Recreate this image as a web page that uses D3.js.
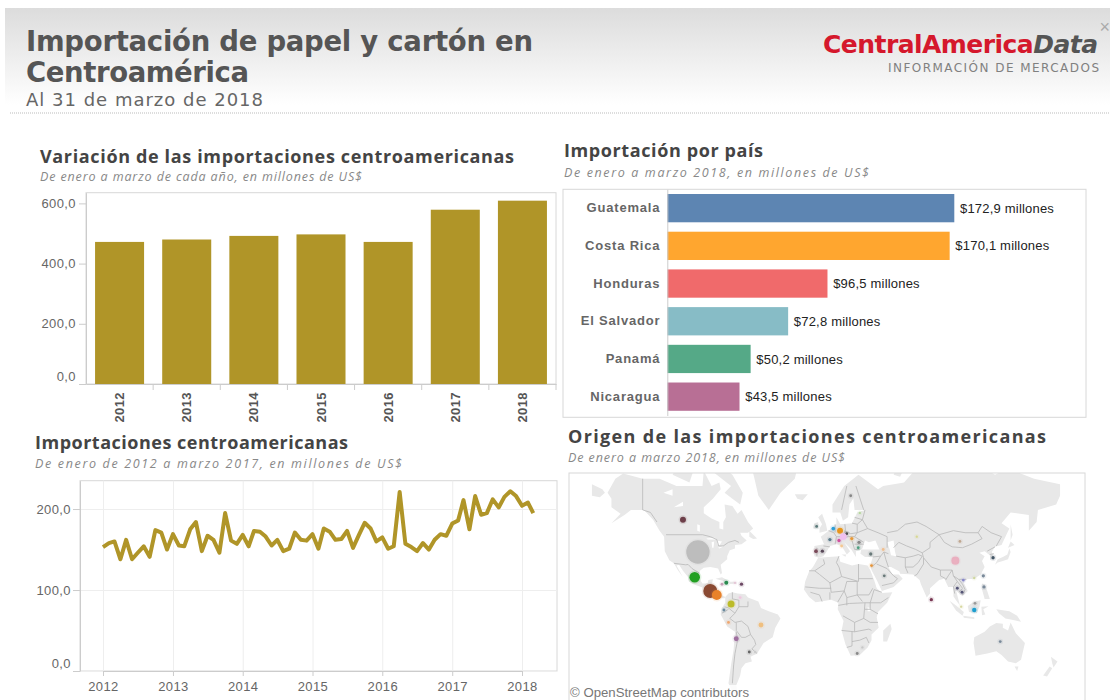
<!DOCTYPE html>
<html>
<head>
<meta charset="utf-8">
<title>Importación de papel y cartón en Centroamérica</title>
<script src="https://cdn.jsdelivr.net/npm/d3@7"></script>
<style>
    html, body { margin: 0; padding: 0; background: #fff; overflow: hidden; }
    #chart { width: 1110px; height: 700px; }
    text { font-family: "Liberation Sans", Arial, sans-serif; }
    .title { font-family: "DejaVu Sans", sans-serif; font-weight: bold; font-size: 27.5px; fill: #555; }
    .date { font-family: "DejaVu Sans", sans-serif; font-size: 18px; fill: #666; }
    .head { font-family: "Open Sans", sans-serif; font-weight: 700; font-size: 18px; fill: #444; }
    .sub { font-family: "Open Sans", sans-serif; font-style: italic; font-size: 12.5px; fill: #888; }
    .frame { fill: none; stroke: #d8d8d8; }
    .axis path, .axis line { stroke: #ccc; }
    .axis text { fill: #666; font-size: 13px; letter-spacing: .4px; }
    .grid line { stroke: #eee; }
    .grid path { display: none; }
    .country text { font-weight: bold; font-size: 13px; letter-spacing: .8px; fill: #666; }
    .valueLabel { font-size: 13px; letter-spacing: .2px; fill: #222; }
    .land { fill: #e8e8e8; stroke: none; }
    .water { fill: #fff; stroke: none; }
    .border { fill: none; stroke: #b8b8b8; stroke-width: .8; }
</style>
</head>
<body>
<div id="chart"></div>
<script>

/* DATA */

// Top left: Jan-Mar of each year
var years = ["2012", "2013", "2014", "2015", "2016", "2017", "2018"];
var yearValues = [472, 480, 492, 497, 472, 579, 609];
var yearTicks = [0, 200, 400, 600];

// Top right: by country
var countries = ["Guatemala", "Costa Rica", "Honduras", "El Salvador", "Panamá", "Nicaragua"];
var countryValues = [172.9, 170.1, 96.5, 72.8, 50.2, 43.5];
var countryColors = ["#5d85b2", "#ffa62f", "#f06a6b", "#87bcc6", "#55a987", "#b86f95"];

// Bottom left: monthly, Jan 2012 to Mar 2018
var monthlyValues = [
    153, 158, 160, 138, 162, 138, 146, 154, 141, 174, 171, 150,
    169, 155, 154, 175, 184, 148, 167, 162, 146, 195, 161, 157,
    168, 154, 173, 172, 166, 155, 162, 148, 151, 171, 162, 161,
    169, 151, 176, 172, 162, 163, 173, 152, 168, 183, 176, 160,
    165, 151, 154, 221, 157, 153, 148, 158, 150, 162, 169, 167,
    182, 186, 211, 175, 216, 193, 195, 212, 202, 215, 222, 216,
    204, 208, 195
];
var monthlyYears = [2012, 2013, 2014, 2015, 2016, 2017, 2018];
var monthlyTicks = [0, 100, 200];

// Bottom right: origin of imports, bubbles by country
var originNames = [
    "Estados Unidos", "México", "Guatemala", "Costa Rica", "Colombia", "Canadá", "Brasil", "Chile", "Argentina", "Uruguay",
    "Cuba", "Rep. Dominicana", "Jamaica", "Puerto Rico", "Venezuela", "Ecuador", "Perú",
    "Irlanda", "Países Bajos", "Alemania", "Chequia", "Francia", "Suiza", "Austria", "Italia", "Hungría", "Rumanía", "Bulgaria",
    "Portugal", "España", "Turquía", "Georgia", "Israel", "Arabia Saudita", "Kazajistán", "Estonia", "Suecia",
    "China", "Mongolia", "Corea del Sur", "Hong Kong", "Taiwán", "Filipinas", "Tailandia", "Laos", "Vietnam", "Sri Lanka",
    "Indonesia", "Malasia", "Singapur", "Australia", "Sudáfrica", "Lesoto"
];
var originLon = [
    -98.5, -101, -89, -84, -73, -110, -50, -59, -69, -54.5,
    -76.7, -70, -80, -65, -66, -78.5, -75,
    -7.2, 5.6, 10.8, 15.9, 3, 10, 13.3, 12, 19.8, 25.4, 24.8,
    -7.7, -2.8, 34.4, 44, 35, 44.8, 69.8, 26, 19,
    99.5, 103, 128.5, 114, 121, 121.5, 101, 105.6, 104.6, 81,
    114, 114.6, 104, 134, 24, 28
];
var originLat = [
    39.5, 23, 13, 10, 3, 56, -13, -32, -23, -32,
    19, 19, 18, 18, 8, -1.5, -11,
    53, 52, 51, 49.5, 46.5, 46, 48, 43, 47, 45, 42,
    40, 40, 38.3, 41, 31, 24, 48, 58.8, 65,
    34.2, 45.5, 36, 22.5, 24, 16, 15, 21, 12, 6.4,
    -1.5, 3.6, 1, -25, -33, -29
];
var originValues = [
    200, 41, 72, 36, 18, 13, 9, 3, 9, 2,
    6, 2, 3, 4, 3, 3, 3,
    3, 5, 13, 3, 4, 4, 16, 3, 4, 4, 3,
    5, 4, 4, 3, 3, 3, 2, 2, 3,
    24, 3, 4, 2, 4, 4, 3, 3, 3, 4,
    7, 3, 2, 3, 3, 2
];
var originPalette = [
    "#bdbdbd", "#22a022", "#8a4a32", "#e8822a", "#bcbc2a", "#6e3f4a", "#f0c080", "#666666", "#a070a0", "#cccccc",
    "#2a8a50", "#e6c8d8", "#c8a0b8", "#6e4a66", "#f0c8e0", "#6a8aa0", "#f0a870",
    "#5a7a7a", "#2f9fd8", "#e8961e", "#444444", "#5a7a8a", "#d050a0", "#f0c0f0", "#f4c890", "#e89a3a", "#888888", "#50a080",
    "#7a4a5a", "#5a4a5a", "#6a7a7a", "#f0c090", "#e8963a", "#6a7a7a", "#d8d890", "#b8d8a0", "#888888",
    "#eab0c0", "#c0a890", "#445566", "#d0d8a0", "#7a8a9a", "#7a8a9a", "#555577", "#8888cc", "#555577", "#7a3a55",
    "#1f9fd0", "#999999", "#d8d8a0", "#7a8a9a", "#888888", "#c8c8c8"
];

// Land outlines as [lon, lat] rings, borders as [lon, lat] lines. Traced by hand, rough.
var landRings = [
    // North and Central America
    [[-168,66],[-162,70],[-156,71.3],[-141,70],[-128,70],[-115,68],[-108,68],[-95,68],[-94,72],[-88,68],[-82,69],[-81,67],[-87,64],[-94,61],[-94,58.7],[-88,56.5],[-82,55],[-82,52],[-79,51.5],[-79,55],[-77,57],[-78,62],[-72,61.5],[-68,58.5],[-65,60],[-60,55],[-56,52],[-60,50],[-66,50],[-65,48.5],[-61,46],[-65,44],[-70,43.5],[-70,41.5],[-74,40.5],[-76,37],[-76,35],[-81,31.5],[-80,26],[-81,25],[-83,29],[-89,30],[-94,29.5],[-97,27.5],[-97.5,22],[-95,18.5],[-91,18.7],[-90.5,21],[-87,21.5],[-88,16],[-84,15.8],[-83.5,12],[-83,9.5],[-79.5,9.5],[-77.5,8.5],[-78,7.5],[-80,7.5],[-83,8.3],[-86,10],[-88,13],[-92,14.5],[-96,16],[-102,18],[-105.5,20],[-106,23],[-110,27.5],[-113,31.5],[-115,31],[-110,23],[-114,28],[-117,32.5],[-120.5,34.5],[-124,40],[-124.5,48],[-128,51],[-133,56],[-140,60],[-150,60],[-155,58],[-165,54.5],[-158,58.5],[-165,61],[-165,64]],
    // Arctic islands
    [[-80,73],[-72,71],[-64,66],[-66,62],[-72,64],[-78,66],[-73,68],[-88,72]],
    [[-118,71],[-105,69],[-102,72],[-114,73]],
    [[-125,72],[-120,71.5],[-116,74],[-124,74]],
    [[-59,51],[-53,47],[-56,46.8],[-59,48]],
    // Tip of Siberia, across the date line
    [[-180,68.5],[-172,67],[-170,66],[-174,64.5],[-180,65]],
    // Greenland, Iceland
    [[-44,60],[-52,65],[-55,70],[-60,76],[-70,78],[-60,82],[-30,83],[-20,75],[-24,70],[-35,66]],
    [[-24,65.5],[-14,65.5],[-18,63.5],[-22,64]],
    // Caribbean
    [[-85,22],[-80,23],[-74,20],[-78,20]],
    [[-74,19.8],[-69,19.8],[-68.5,18.4],[-74,18.2]],
    [[-78.3,18.4],[-76.3,18.2],[-77,17.8]],
    // South America
    [[-77.5,8.5],[-75,11],[-72,12],[-68,11],[-62,10.5],[-60,8],[-52,5],[-50,0],[-44,-2.5],[-37,-5],[-35,-8],[-39,-15],[-41,-22],[-48,-26],[-53,-33],[-58,-35],[-57,-38],[-62,-39],[-65,-42],[-66,-46],[-69,-51],[-68,-55],[-72,-54],[-75,-50],[-73,-40],[-71,-30],[-70,-18],[-76,-14],[-81,-5],[-80,0],[-77.5,4]],
    // Africa
    [[-6,36],[10,37],[11,33.5],[20,31],[25,32],[32,31],[34,28],[37,21],[39,15],[43,11.5],[51,12],[47,4],[40,-3],[39,-7],[40.5,-15],[35,-20],[35,-24],[32,-29],[26,-34],[19,-34.5],[15,-27],[12,-17],[13.5,-10],[9,-1],[9.5,4],[4,6.3],[-4,5],[-8,4.5],[-13,8.5],[-17,14],[-16,20],[-13,27],[-10,30]],
    [[49.5,-12],[50.5,-16],[47,-25],[44,-25],[44,-17]],
    // Eurasia
    [[-9,37],[-9,43],[-1.5,44],[-4,48],[2,51],[8,54],[8,57],[11,54],[20,54.5],[24,59],[30,60],[22,60],[21,64],[24,66],[18,62],[17,57],[13,55.5],[11,59],[5,59],[5,62],[14,68],[25,71],[40,67],[44,68],[60,69],[68,72],[80,73],[100,77],[113,74],[130,71],[140,72.5],[160,70],[180,68.5],[180,65],[177,62],[163,60],[162,55],[156,51],[156,58],[142,59],[135,54.5],[141,52],[135,43.5],[130,42.5],[127.5,39.5],[129,36],[126.5,34.5],[126,37.5],[122,40],[118,39],[122,37],[120,34],[122,30],[119,25],[114,22],[108,21.5],[106,19],[109,13],[105,9],[100,13.5],[103,2],[100,6],[98,9],[98,16],[94,16],[91,22],[87,21],[80,15],[80,11],[77.5,8],[73,18],[72,21],[67,25],[57,25.5],[56.5,27],[50,30],[48,30],[51,25],[56,25],[59,22],[52,16],[43,13],[39,21],[35,28],[34,31],[36,36.5],[30,36.5],[26.5,38.5],[27,41],[41,41],[38,46],[33,45],[30,46],[28,41.5],[26,40.5],[23,40],[23,36.5],[19.5,41],[14,45],[18.5,40],[16,38],[12,43],[8,44],[3,43],[0,39],[-2,37],[-5.5,36]],
    // Islands of Europe and Asia
    [[-5,50],[1,51],[0,54],[-3,58.5],[-6,57],[-3,54],[-5,52]],
    [[-10,52],[-6,52],[-6,55],[-9,54.5]],
    [[12,38],[15.5,38],[15,36.7]],
    [[52,71],[57,70.5],[68,77],[60,76]],
    [[80,9.5],[82,7],[80.5,6]],
    [[130,31.5],[132,33],[136,34],[140,35],[142,39.5],[141,41.5],[139.5,38],[136,36.5],[132,35]],
    [[140,42],[145,43.5],[142,45.5]],
    [[142,54],[143.5,49],[142,46],[142,50]],
    [[120,25],[122,25],[121,22]],
    [[120,18.5],[122,18],[124,13],[126,7],[122,7],[120,14]],
    [[95,5.5],[100,2],[106,-3],[105,-6],[100,-2]],
    [[105.5,-6],[114,-7],[114,-8.5],[106,-7.5]],
    [[109,1.5],[114,5],[119,6],[118,1],[116,-4],[110,-3]],
    [[119.5,1],[125,1.3],[121,-1],[122.5,-5],[120,-5.5]],
    [[131,-1],[141,-2.5],[147,-6],[150,-10.5],[143,-9],[138,-8],[133,-4]],
    // Oceania
    [[114,-22],[122,-18],[126,-14],[131,-11.5],[136,-12],[136,-15],[140,-17],[142,-11],[146,-19],[153,-26],[150,-37],[146,-39],[140,-38],[135,-34],[131,-31.5],[124,-33],[115,-34.5],[113.5,-26]],
    [[145,-41],[148,-41],[147,-43.5]],
    [[173,-35],[178,-38],[175,-41.5],[174,-39]],
    [[172,-41],[174,-42],[170,-46.5],[167,-46]]
];
var waterRings = [
    [[47,45],[52,46],[53,40],[54,37],[50,37.5],[49,41]],   // Caspian
    [[-92,47],[-85,47.5],[-85,46.5],[-91,46.5]],           // Superior
    [[-88,45],[-86,45.5],[-86.5,42],[-87.5,42]],           // Michigan
    [[-84,46],[-80,45.5],[-82,43.2],[-83.5,44]],           // Huron
    [[-83,42],[-79,43],[-79,42.7],[-82,41.5]],             // Erie
    [[-125,66],[-118,67],[-118,65]],                       // Great Bear
    [[-117,61],[-110,63],[-110,61.5]],                     // Great Slave
    [[-99,54],[-97,53.5],[-97,50.5],[-99,51]],             // Winnipeg
    [[32,0.5],[34,0],[34,-2.5],[32,-2.5]]                  // Victoria
];
var borderLines = [
    // North America
    [[-141,70],[-141,60],[-135,59],[-130,55]],
    [[-123,49],[-95,49],[-89,48],[-84,46.5],[-82.5,43],[-79,43],[-75,45],[-70,46],[-67,45]],
    [[-117,32.5],[-108,31.5],[-106,31.7],[-103,29],[-97.5,26]],
    [[-92,14.5],[-91,17],[-89,18]],
    // South America
    [[-60,5],[-60,1],[-67,1],[-70,-4],[-74,-8],[-70,-11],[-65,-10],[-60,-14],[-58,-20],[-55,-24],[-54,-27],[-57,-30],[-53,-33]],
    [[-69,-18],[-68,-24],[-70,-33],[-71,-40],[-72,-50]],
    [[-72,12],[-72,7],[-67,6],[-67,1]],
    [[-78,1],[-75,0],[-70,-4]],
    [[-80,-4],[-75,-1]],
    [[-69,-11],[-69,-17],[-65,-22],[-62,-22],[-58,-20]],
    // Africa
    [[-13,27.5],[-8.7,27.5],[-1,32],[-2,35]],
    [[-8.7,27.5],[-5,25],[3,19],[12,23.5],[25,20],[25,32]],
    [[12,23.5],[10,30],[8,33],[10,37]],
    [[25,22],[36,22]],
    [[24,20],[24,10],[28,5]],
    [[3,19],[4,12],[14,13],[16,20],[24,20]],
    [[-16,16],[-5,15],[4,15]],
    [[-12,12],[-5,10],[-3,5]],
    [[3,6.5],[3,12]],
    [[14,13],[9,4.5]],
    [[14,13],[16,8],[24,10]],
    [[16,2],[16,8]],
    [[9.5,2],[18,3.5],[30,4],[34,4],[42,4],[48,8]],
    [[34,4],[37,14],[43,12]],
    [[24,10],[33,10],[36,15]],
    [[34,4],[34,-1],[40,-4.5]],
    [[30,-1],[34,-1]],
    [[30,4],[29,-8],[22,-11],[13,-6]],
    [[22,-11],[22,-18],[12,-17]],
    [[29,-8],[34,-11],[40,-11]],
    [[22,-18],[33,-16],[35,-17]],
    [[20,-18],[20,-28],[16,-29]],
    [[20,-25],[26,-24],[31,-22],[33,-26]],
    // Asia
    [[28,56],[32,52],[40,50],[47,48],[47,42]],
    [[47,50],[55,51],[61,54],[70,55],[77,53],[87,49],[98,51],[107,50],[117,50],[120,53],[127,50],[135,48],[131,43]],
    [[87,49],[91,45],[97,42.5],[105,42],[112,44],[120,47],[117,50]],
    [[87,49],[80,45],[80,42],[74,39],[75,36],[79,32],[81,30],[88,28],[97,28],[98,24],[102,21.5],[108,21.5]],
    [[52,42],[56,45],[62,43],[69,41],[74,39]],
    [[54,37],[61,36],[67,37],[71,38],[74,37]],
    [[61,36],[61,30],[63,26]],
    [[61,30],[67,30],[71,33],[74,37]],
    [[75,36],[75,32],[70,25],[68,24]],
    [[88,28],[88,24],[92,22]],
    [[97,28],[94,24],[92,21]],
    [[98,24],[101,20],[98,16],[99,11]],
    [[102,21.5],[105,18],[107,14],[105,10]],
    [[101,20],[105,15],[102,12]],
    [[124,40],[130,42.5]],
    [[126,38],[129,38.5]],
    [[36,36.5],[42,37],[44.5,39.5],[48,38.5]],
    [[42,37],[39,33],[35,30]],
    [[44.5,39.5],[46,35],[48,30]],
    [[39,32],[47,29],[52,24],[55,22],[52,19],[43,17]],
    // Europe
    [[2,51],[6,50],[8,48],[7,44]],
    [[-2,43],[3,42.5]],
    [[-7,42],[-7,37]],
    [[7,54],[7,50]],
    [[14.5,54],[15,51],[12,48],[8,48]],
    [[14,51],[19,49.5],[24,50],[24,54],[20,54.5]],
    [[13,47],[17,48],[22,48],[29,45]],
    [[22,48],[24,50],[32,52]],
    [[28,56],[24,54]],
    [[22,44],[29,44]],
    [[20,46],[22,41],[26,41]],
    [[30,60],[28,56],[22,57]],
    [[23,68],[29,60]],
    [[16,68],[12,60]]
];

var decimal = d3.formatLocale({ decimal: ",", thousands: ".", grouping: [3], currency: ["$", ""] }).format(".1f");
var gold = "#b09528";


/* PAGE */

var svg = d3.select("#chart")
    .append("svg")
    .attr("width", 1110)
    .attr("height", 700);

var defs = svg.append("defs");

var headerFade = defs.append("linearGradient")
    .attr("id", "headerFade")
    .attr("x1", 0).attr("y1", 0)
    .attr("x2", 0).attr("y2", 1);
headerFade.append("stop").attr("offset", "0%").attr("stop-color", "#dcdcdc");
headerFade.append("stop").attr("offset", "100%").attr("stop-color", "#ffffff");

defs.append("filter")
    .attr("id", "soft")
    .append("feGaussianBlur")
    .attr("stdDeviation", 0.7);

defs.append("clipPath")
    .attr("id", "mapClip")
    .append("rect")
    .attr("x", 569).attr("y", 473)
    .attr("width", 516).attr("height", 227);

// Header
svg.append("rect")
    .attr("x", 5).attr("y", 8)
    .attr("width", 1105).attr("height", 97)
    .attr("fill", "url(#headerFade)");

svg.append("line")
    .attr("x1", 10).attr("x2", 1110)
    .attr("y1", 113).attr("y2", 113)
    .attr("stroke", "#bbb")
    .attr("stroke-dasharray", "1 1");

svg.append("text").attr("class", "title").attr("x", 26).attr("y", 51)
    .attr("textLength", 507).text("Importación de papel y cartón en");
svg.append("text").attr("class", "title").attr("x", 26).attr("y", 82)
    .attr("textLength", 223).text("Centroamérica");
svg.append("text").attr("class", "date").attr("x", 26).attr("y", 106)
    .attr("textLength", 237).text("Al 31 de marzo de 2018");

// Logo
var logo = svg.append("text")
    .attr("x", 823).attr("y", 53)
    .attr("textLength", 275)
    .style("font-family", "'DejaVu Sans', sans-serif")
    .style("font-size", "25px")
    .style("font-weight", "bold");
logo.append("tspan").attr("fill", "#d5182c").text("CentralAmerica");
logo.append("tspan").attr("fill", "#555").style("font-style", "italic").text("Data");

svg.append("text")
    .attr("x", 888).attr("y", 72)
    .attr("textLength", 211)
    .attr("fill", "#808080")
    .style("font-family", "'DejaVu Sans', sans-serif")
    .style("font-size", "12px")
    .text("INFORMACIÓN DE MERCADOS");

svg.append("text")
    .attr("x", 1110).attr("y", 33)
    .attr("text-anchor", "end")
    .attr("fill", "#aaa")
    .style("font-size", "18px")
    .text("×");

// Section headings
function heading(x, y, w, label, ySub, wSub, sublabel) {
    svg.append("text").attr("class", "head").attr("x", x).attr("y", y)
        .attr("textLength", w).text(label);
    svg.append("text").attr("class", "sub").attr("x", x).attr("y", ySub)
        .attr("textLength", wSub).text(sublabel);
}

heading(40, 163, 474, "Variación de las importaciones centroamericanas",
    181, 322, "De enero a marzo de cada año, en millones de US$");
heading(564, 157, 199, "Importación por país",
    177, 305, "De enero a marzo 2018, en millones de US$");
heading(35, 449, 313, "Importaciones centroamericanas",
    468, 367, "De enero de 2012 a marzo 2017, en millones de US$");
heading(568, 443, 478, "Origen de las importaciones centroamericanas",
    462, 277, "De enero a marzo 2018, en millones de US$");


/* YEARLY BARS */

var barX = d3.scaleBand()
    .domain(years)
    .range([86, 556])
    .paddingInner(0.27)
    .paddingOuter(0.135);
var barY = d3.scaleLinear()
    .domain([0, 635.5])
    .range([384, 192.7]);

svg.append("rect").attr("class", "frame")
    .attr("x", 86).attr("y", 192.7)
    .attr("width", 470).attr("height", 191.3);

svg.selectAll(".yearBar")
    .data(yearValues)
    .enter()
    .append("rect")
        .attr("class", "yearBar")
        .attr("x", function(d, i) { return barX(years[i]); })
        .attr("y", function(d) { return barY(d); })
        .attr("width", barX.bandwidth())
        .attr("height", function(d) { return barY(0) - barY(d); })
        .attr("fill", gold);

var barAxisY = svg.append("g")
    .attr("class", "axis")
    .attr("transform", "translate(86,0)")
    .call(d3.axisLeft(barY).tickValues(yearTicks).tickSize(7).tickSizeOuter(0).tickPadding(3).tickFormat(decimal));
barAxisY.selectAll(".tick").filter(function(d) { return d === 0; }).select("text").attr("dy", "-.3em");

var barAxisX = svg.append("g")
    .attr("class", "axis")
    .attr("transform", "translate(0,384)")
    .call(d3.axisBottom(barX).tickSize(0));
barAxisX.selectAll("text")
    .attr("transform", "rotate(-90)")
    .attr("text-anchor", "end")
    .attr("x", -8)
    .attr("y", 0)
    .attr("dy", ".35em")
    .style("font-weight", "bold")
    .style("font-size", "13px")
    .style("fill", "#555");

// little ticks sit between the bars
svg.selectAll(".bandTick")
    .data(years)
    .enter()
    .append("line")
        .attr("class", "bandTick")
        .attr("x1", function(d) { return barX(d) + barX.bandwidth() + barX.step() * 0.135; })
        .attr("x2", function(d) { return barX(d) + barX.bandwidth() + barX.step() * 0.135; })
        .attr("y1", 384).attr("y2", 390)
        .attr("stroke", "#ccc");


/* COUNTRY BARS */

var countryY = d3.scaleBand()
    .domain(countries)
    .range([189.3, 415.5])
    .paddingInner(0.25)
    .paddingOuter(0.125);
var countryX = d3.scaleLinear()
    .domain([0, 172.9])
    .range([667.3, 954.3]);

svg.append("rect").attr("class", "frame")
    .attr("x", 563).attr("y", 189.3)
    .attr("width", 523).attr("height", 228);

svg.selectAll(".countryBar")
    .data(countryValues)
    .enter()
    .append("rect")
        .attr("class", "countryBar")
        .attr("x", countryX(0))
        .attr("y", function(d, i) { return countryY(countries[i]); })
        .attr("width", function(d) { return countryX(d) - countryX(0); })
        .attr("height", countryY.bandwidth())
        .attr("fill", function(d, i) { return countryColors[i]; });

svg.selectAll(".valueLabel")
    .data(countryValues)
    .enter()
    .append("text")
        .attr("class", "valueLabel")
        .attr("x", function(d) { return countryX(d) + 5.7; })
        .attr("y", function(d, i) { return countryY(countries[i]) + countryY.bandwidth() / 2; })
        .attr("dy", ".35em")
        .text(function(d) { return "$" + decimal(d) + " millones"; });

svg.append("g")
    .attr("class", "axis country")
    .attr("transform", "translate(667.3,0)")
    .call(d3.axisLeft(countryY).tickSize(0).tickPadding(7));


/* MONTHLY LINE */

var lineX = d3.scaleTime()
    .domain([new Date(2012, 0, 1), new Date(2018, 0, 1)])
    .range([103, 522]);
var lineY = d3.scaleLinear()
    .domain([0, 235])
    .range([671, 480.7]);

var months = d3.timeMonth.range(new Date(2012, 0, 1), new Date(2018, 3, 1));
var yearDates = monthlyYears.map(function(y) { return new Date(y, 0, 1); });

svg.append("rect").attr("class", "frame")
    .attr("x", 80).attr("y", 480.7)
    .attr("width", 477).attr("height", 190.3);

svg.append("g")
    .attr("class", "grid")
    .attr("transform", "translate(0,671)")
    .call(d3.axisBottom(lineX).tickValues(yearDates).tickSize(-190.3).tickFormat(""));
svg.append("g")
    .attr("class", "grid")
    .attr("transform", "translate(80,0)")
    .call(d3.axisLeft(lineY).tickValues(monthlyTicks).tickSize(-477).tickFormat(""));

var lineAxisY = svg.append("g")
    .attr("class", "axis")
    .attr("transform", "translate(80,0)")
    .call(d3.axisLeft(lineY).tickValues(monthlyTicks).tickSize(7).tickSizeOuter(0).tickPadding(2).tickFormat(decimal));
lineAxisY.selectAll(".tick").filter(function(d) { return d === 0; }).select("text").attr("dy", "-.3em");

svg.append("g")
    .attr("class", "axis")
    .attr("transform", "translate(0,671)")
    .call(d3.axisBottom(lineX).tickValues(yearDates).tickSize(5).tickSizeOuter(0).tickPadding(6).tickFormat(d3.timeFormat("%Y")));

var line = d3.line()
    .x(function(d, i) { return lineX(months[i]); })
    .y(function(d) { return lineY(d); });

svg.append("path")
    .attr("d", line(monthlyValues))
    .attr("fill", "none")
    .attr("stroke", gold)
    .attr("stroke-width", 4)
    .attr("stroke-linejoin", "round");


/* MAP */

var projection = d3.geoMercator()
    .scale(74.5)
    .translate([826, 608]);

var ringPath = d3.line().curve(d3.curveLinearClosed);
var linePath = d3.line();

function projectRing(ring) { return ring.map(function(p) { return projection(p); }); }

var mapGroup = svg.append("g")
    .attr("clip-path", "url(#mapClip)");
var mapSoft = mapGroup.append("g")
    .attr("filter", "url(#soft)");

mapSoft.selectAll(".land")
    .data(landRings)
    .enter()
    .append("path")
        .attr("class", "land")
        .attr("d", function(d) { return ringPath(projectRing(d)); });

mapSoft.selectAll(".water")
    .data(waterRings)
    .enter()
    .append("path")
        .attr("class", "water")
        .attr("d", function(d) { return ringPath(projectRing(d)); });

mapSoft.selectAll(".border")
    .data(borderLines)
    .enter()
    .append("path")
        .attr("class", "border")
        .attr("d", function(d) { return linePath(projectRing(d)); });

var originR = d3.scaleSqrt().domain([0, 200]).range([0, 11.7]);
var originColor = d3.scaleOrdinal(originNames, originPalette);

// pale ring round each bubble, the reference has a soft halo
mapSoft.selectAll(".origin")
    .data(originValues)
    .enter()
    .append("circle")
        .attr("class", "origin")
        .attr("cx", function(d, i) { return projection([originLon[i], originLat[i]])[0]; })
        .attr("cy", function(d, i) { return projection([originLon[i], originLat[i]])[1]; })
        .attr("r", function(d) { return originR(d); })
        .attr("fill", function(d, i) { return originColor(originNames[i]); })
        .attr("stroke", function(d, i) { return originColor(originNames[i]); })
        .attr("stroke-opacity", 0.12)
        .attr("stroke-width", 3);

svg.append("rect").attr("class", "frame")
    .attr("x", 569).attr("y", 473)
    .attr("width", 516).attr("height", 240);

svg.append("rect")
    .attr("x", 570).attr("y", 685)
    .attr("width", 182).attr("height", 15)
    .attr("fill", "#fff")
    .attr("opacity", 0.8);

svg.append("text")
    .attr("x", 570).attr("y", 697)
    .attr("fill", "#777")
    .style("font-size", "13.2px")
    .text("© OpenStreetMap contributors");

</script>
</body>
</html>
